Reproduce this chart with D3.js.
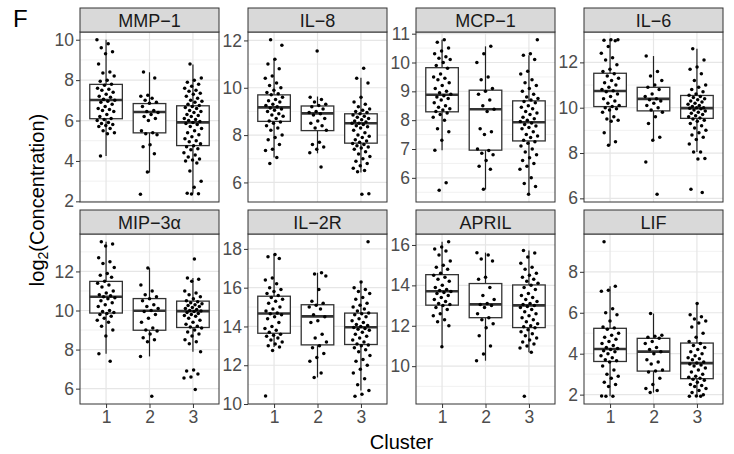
<!DOCTYPE html>
<html>
<head>
<meta charset="utf-8">
<script src="https://cdn.jsdelivr.net/npm/d3@7"></script>
<style>
  body { margin: 0; background: #fff; }
  svg { display: block; font-family: "Liberation Sans", Arial, Helvetica, sans-serif; }
</style>
</head>
<body>
<svg id="chart"></svg>
<script>
// categories
const clusters = ["1", "2", "3"];
const analytes = ["MMP−1", "IL−8", "MCP−1", "IL−6", "MIP−3α", "IL−2R", "APRIL", "LIF"];

// log2 concentrations, one list per cluster
const mmp1Values = [
  [10.0, 9.8, 9.6, 9.4, 9.3, 8.8, 8.4, 8.35, 8.2, 8.0, 7.95, 7.8, 7.75, 7.6, 7.55, 7.5, 7.4, 7.3, 7.2, 7.15, 7.05, 7.0, 6.95, 6.9, 6.8, 6.7, 6.6, 6.55, 6.5, 6.45, 6.3, 6.2, 6.1, 6.05, 6.0, 5.9, 5.85, 5.8, 5.75, 5.7, 5.6, 5.5, 5.4, 5.35, 4.25],
  [8.4, 8.1, 7.25, 7.2, 7.1, 7.0, 6.9, 6.85, 6.7, 6.5, 6.45, 6.4, 6.3, 6.2, 6.1, 6.0, 5.5, 5.4, 5.35, 5.3, 4.8, 4.7, 4.35, 3.45, 2.35],
  [8.8, 8.1, 8.0, 7.9, 7.8, 7.7, 7.6, 7.5, 7.45, 7.35, 7.3, 7.2, 7.1, 7.0, 6.95, 6.9, 6.8, 6.75, 6.7, 6.65, 6.6, 6.5, 6.45, 6.4, 6.3, 6.25, 6.2, 6.1, 6.05, 6.0, 5.95, 5.9, 5.85, 5.8, 5.7, 5.6, 5.5, 5.4, 5.3, 5.2, 5.1, 5.0, 4.95, 4.85, 4.75, 4.7, 4.6, 4.55, 4.4, 4.3, 4.2, 4.1, 4.05, 4.0, 3.9, 3.5, 3.0, 2.7, 2.4, 2.38, 2.36]
];
const il8Values = [
  [12.03, 11.8, 11.2, 11.0, 10.8, 10.5, 10.4, 10.2, 10.1, 10.0, 9.9, 9.8, 9.75, 9.7, 9.6, 9.5, 9.45, 9.4, 9.3, 9.25, 9.2, 9.15, 9.1, 9.05, 9.0, 8.9, 8.85, 8.8, 8.7, 8.6, 8.55, 8.5, 8.4, 8.3, 8.2, 8.0, 7.9, 7.8, 7.6, 7.4, 7.35, 7.05, 6.8],
  [11.55, 9.6, 9.5, 9.4, 9.3, 9.25, 9.2, 9.1, 9.0, 8.95, 8.9, 8.85, 8.7, 8.6, 8.5, 8.4, 8.3, 8.2, 7.7, 7.6, 7.5, 7.4, 7.25, 6.65],
  [10.82, 10.4, 10.2, 9.6, 9.4, 9.3, 9.2, 9.1, 9.05, 9.0, 8.95, 8.9, 8.85, 8.8, 8.75, 8.7, 8.65, 8.6, 8.55, 8.5, 8.5, 8.45, 8.4, 8.35, 8.3, 8.2, 8.1, 8.0, 7.95, 7.9, 7.8, 7.75, 7.7, 7.65, 7.6, 7.55, 7.5, 7.45, 7.4, 7.3, 7.2, 7.1, 7.0, 6.9, 6.8, 6.7, 6.6, 6.5, 6.45, 5.52, 5.5]
];
const mcp1Values = [
  [10.79, 10.7, 10.5, 10.4, 10.3, 10.2, 10.15, 10.1, 10.0, 9.9, 9.8, 9.6, 9.5, 9.45, 9.4, 9.3, 9.2, 9.1, 9.0, 8.95, 8.9, 8.85, 8.8, 8.75, 8.7, 8.6, 8.5, 8.45, 8.4, 8.35, 8.3, 8.25, 8.2, 8.1, 8.0, 7.7, 7.6, 7.3, 6.96, 5.83, 5.57],
  [10.56, 10.3, 10.0, 9.5, 9.4, 9.1, 9.0, 8.9, 8.7, 8.5, 8.38, 8.3, 7.7, 7.6, 7.5, 7.0, 6.95, 6.85, 6.8, 6.6, 6.4, 6.3, 5.6],
  [10.79, 10.3, 10.25, 10.1, 9.7, 9.6, 9.4, 9.3, 9.2, 9.1, 9.0, 8.9, 8.8, 8.75, 8.7, 8.65, 8.6, 8.5, 8.45, 8.4, 8.3, 8.25, 8.2, 8.1, 8.05, 8.0, 7.95, 7.9, 7.85, 7.8, 7.75, 7.7, 7.6, 7.5, 7.45, 7.4, 7.3, 7.25, 7.2, 7.1, 7.0, 6.9, 6.8, 6.7, 6.6, 6.5, 6.4, 6.3, 6.0, 5.8, 5.7, 5.43]
];
const il6Values = [
  [13.0, 13.0, 12.98, 12.95, 12.7, 12.4, 12.2, 12.1, 11.9, 11.7, 11.6, 11.5, 11.4, 11.3, 11.2, 11.1, 11.0, 10.9, 10.8, 10.75, 10.7, 10.6, 10.5, 10.4, 10.3, 10.2, 10.1, 10.05, 10.0, 9.95, 9.9, 9.8, 9.6, 9.5, 9.45, 9.4, 8.9, 8.5, 8.34],
  [12.28, 11.6, 11.4, 11.2, 11.0, 10.9, 10.8, 10.6, 10.5, 10.4, 10.35, 10.3, 10.2, 10.1, 10.0, 9.9, 9.8, 9.6, 9.3, 8.7, 8.56, 7.6, 6.18],
  [12.6, 12.1, 11.8, 11.7, 11.5, 11.2, 11.0, 10.9, 10.8, 10.7, 10.6, 10.55, 10.5, 10.45, 10.4, 10.35, 10.3, 10.25, 10.2, 10.15, 10.1, 10.05, 10.0, 10.0, 9.98, 9.95, 9.9, 9.85, 9.8, 9.75, 9.7, 9.65, 9.6, 9.55, 9.5, 9.45, 9.4, 9.3, 9.2, 9.1, 9.0, 8.9, 8.8, 8.7, 8.6, 8.4, 8.05, 8.04, 7.76, 7.74, 6.4, 6.26]
];
const mip3aValues = [
  [13.52, 13.4, 13.3, 12.7, 12.5, 12.4, 12.2, 11.9, 11.8, 11.7, 11.5, 11.4, 11.3, 11.2, 11.0, 10.9, 10.8, 10.75, 10.7, 10.65, 10.6, 10.5, 10.4, 10.3, 10.2, 10.0, 9.95, 9.9, 9.85, 9.8, 9.7, 9.6, 9.5, 9.4, 9.2, 9.0, 8.7, 7.79, 7.4],
  [12.17, 11.3, 11.0, 10.8, 10.7, 10.6, 10.5, 10.3, 10.2, 10.1, 10.0, 9.95, 9.8, 9.6, 9.4, 9.1, 9.0, 8.95, 8.8, 8.6, 8.5, 8.4, 7.65, 5.61],
  [12.63, 11.66, 11.6, 11.5, 11.0, 10.9, 10.8, 10.7, 10.6, 10.5, 10.45, 10.4, 10.35, 10.3, 10.25, 10.2, 10.15, 10.1, 10.05, 10.0, 9.98, 9.95, 9.9, 9.85, 9.8, 9.75, 9.7, 9.6, 9.5, 9.4, 9.3, 9.2, 9.15, 9.1, 9.0, 8.9, 8.8, 8.7, 8.5, 8.4, 8.3, 7.89, 6.95, 6.9, 6.75, 6.6, 6.55, 5.96]
];
const il2rValues = [
  [17.71, 17.6, 17.5, 16.5, 16.4, 16.2, 16.0, 15.9, 15.8, 15.7, 15.6, 15.5, 15.4, 15.3, 15.2, 15.0, 14.9, 14.8, 14.7, 14.65, 14.6, 14.5, 14.4, 14.2, 14.0, 13.9, 13.8, 13.7, 13.6, 13.55, 13.5, 13.4, 13.3, 13.2, 13.1, 13.0, 12.94, 12.76, 10.41],
  [16.77, 16.7, 16.6, 15.9, 15.3, 15.2, 15.1, 15.0, 14.9, 14.6, 14.5, 14.3, 14.2, 13.6, 13.4, 13.2, 13.0, 12.9, 12.6, 12.4, 12.2, 11.6, 11.37],
  [18.37, 16.29, 16.0, 15.9, 15.8, 15.7, 15.5, 15.4, 15.2, 15.1, 15.0, 14.9, 14.8, 14.7, 14.65, 14.6, 14.5, 14.4, 14.3, 14.2, 14.1, 14.05, 14.0, 13.95, 13.9, 13.85, 13.8, 13.7, 13.6, 13.5, 13.4, 13.3, 13.2, 13.1, 13.05, 13.0, 12.9, 12.8, 12.7, 12.5, 12.3, 12.2, 12.0, 11.8, 11.6, 11.3, 11.0, 10.7, 10.5, 10.4]
];
const aprilValues = [
  [16.16, 15.9, 15.8, 15.7, 15.5, 15.2, 15.0, 14.9, 14.8, 14.6, 14.5, 14.4, 14.3, 14.2, 14.0, 13.9, 13.8, 13.75, 13.7, 13.65, 13.6, 13.5, 13.4, 13.3, 13.2, 13.1, 13.05, 13.0, 12.9, 12.8, 12.6, 12.5, 12.3, 12.2, 12.0, 10.96],
  [15.62, 15.5, 15.3, 15.2, 14.4, 14.3, 13.9, 13.5, 13.3, 13.1, 13.05, 13.0, 12.9, 12.6, 12.4, 12.3, 12.1, 11.9, 11.5, 11.0, 10.6, 10.27],
  [15.72, 15.6, 15.4, 15.1, 14.9, 14.8, 14.6, 14.5, 14.4, 14.3, 14.2, 14.1, 14.0, 13.9, 13.8, 13.6, 13.5, 13.4, 13.3, 13.2, 13.1, 13.05, 13.0, 12.95, 12.9, 12.8, 12.7, 12.6, 12.5, 12.4, 12.3, 12.2, 12.1, 12.0, 11.95, 11.9, 11.8, 11.7, 11.6, 11.5, 11.4, 11.3, 11.2, 11.1, 11.0, 10.9, 10.69, 8.51]
];
const lifValues = [
  [9.47, 7.3, 7.1, 7.05, 6.2, 6.0, 5.9, 5.6, 5.3, 5.25, 5.2, 5.0, 4.9, 4.8, 4.7, 4.6, 4.5, 4.4, 4.3, 4.25, 4.2, 4.15, 4.1, 4.0, 3.9, 3.8, 3.7, 3.65, 3.6, 3.4, 3.2, 3.0, 2.9, 2.8, 2.6, 2.5, 2.4, 1.93, 1.92, 1.92],
  [5.96, 4.9, 4.85, 4.8, 4.75, 4.6, 4.5, 4.3, 4.2, 4.1, 4.0, 3.7, 3.6, 3.5, 3.2, 3.15, 3.1, 2.8, 2.5, 2.3, 2.2, 2.1],
  [6.45, 5.9, 5.8, 5.7, 5.6, 5.5, 5.3, 5.0, 4.8, 4.6, 4.5, 4.4, 4.3, 4.2, 4.1, 4.0, 3.9, 3.8, 3.75, 3.7, 3.6, 3.55, 3.5, 3.45, 3.4, 3.3, 3.2, 3.1, 3.0, 2.9, 2.85, 2.8, 2.75, 2.7, 2.6, 2.5, 2.45, 2.4, 2.3, 2.2, 2.1, 2.0, 1.93, 1.92, 1.92]
];

// box stats per cluster: [lower whisker, q1, median, q3, upper whisker]
const mmp1Boxes = [[4.24, 6.09, 7.02, 7.79, 10.0], [3.42, 5.39, 6.42, 6.84, 8.39], [2.39, 4.76, 5.91, 6.73, 8.77]];
const il8Boxes = [[7.05, 8.58, 9.17, 9.70, 11.23], [7.23, 8.19, 8.92, 9.23, 9.63], [6.42, 7.66, 8.50, 8.90, 10.42]];
const mcp1Boxes = [[6.96, 8.29, 8.88, 9.82, 10.79], [5.60, 6.96, 8.38, 9.04, 10.56], [5.43, 7.28, 7.93, 8.67, 10.25]];
const il6Boxes = [[8.34, 10.05, 10.74, 11.52, 13.0], [8.56, 9.86, 10.39, 10.90, 12.28], [8.04, 9.53, 9.98, 10.54, 12.6]];
const mip3aBoxes = [[7.79, 9.87, 10.70, 11.49, 13.52], [7.65, 8.99, 9.99, 10.61, 12.17], [7.89, 9.13, 9.97, 10.48, 11.66]];
const il2rBoxes = [[12.94, 13.65, 14.67, 15.56, 17.71], [11.37, 13.05, 14.52, 15.12, 16.77], [10.7, 13.07, 13.96, 14.69, 16.29]];
const aprilBoxes = [[10.96, 13.02, 13.71, 14.53, 16.16], [10.27, 12.40, 13.06, 14.09, 15.62], [10.69, 11.91, 13.01, 14.02, 15.72]];
const lifBoxes = [[1.92, 3.62, 4.23, 5.24, 7.30], [2.10, 3.15, 4.10, 4.75, 5.96], [1.92, 2.78, 3.54, 4.52, 6.45]];

// y tick labels per panel
const mmp1Ticks = [2, 4, 6, 8, 10];
const il8Ticks = [6, 8, 10, 12];
const mcp1Ticks = [6, 7, 8, 9, 10, 11];
const il6Ticks = [6, 8, 10, 12];
const mip3aTicks = [6, 8, 10, 12];
const il2rTicks = [10, 12, 14, 16, 18];
const aprilTicks = [10, 12, 14, 16];
const lifTicks = [2, 4, 6, 8];

const panels = [
  { name: analytes[0], values: mmp1Values, boxes: mmp1Boxes, ticks: mmp1Ticks },
  { name: analytes[1], values: il8Values, boxes: il8Boxes, ticks: il8Ticks },
  { name: analytes[2], values: mcp1Values, boxes: mcp1Boxes, ticks: mcp1Ticks },
  { name: analytes[3], values: il6Values, boxes: il6Boxes, ticks: il6Ticks },
  { name: analytes[4], values: mip3aValues, boxes: mip3aBoxes, ticks: mip3aTicks },
  { name: analytes[5], values: il2rValues, boxes: il2rBoxes, ticks: il2rTicks },
  { name: analytes[6], values: aprilValues, boxes: aprilBoxes, ticks: aprilTicks },
  { name: analytes[7], values: lifValues, boxes: lifBoxes, ticks: lifTicks }
];

const width = 734;
const height = 454;
const left = 80;
const colStep = 168;
const pw = 139;
const ph = 170;
const stripH = 24;
const rowTops = [32, 234];
const font = "Liberation Sans, Arial, sans-serif";

const svg = d3.select("#chart").attr("width", width).attr("height", height);

svg.append("rect").attr("width", width).attr("height", height).attr("fill", "#fff");

panels.forEach((p, k) => {
  const col = k % 4;
  const row = Math.floor(k / 4);
  const x0 = left + col * colStep;
  const y0 = rowTops[row];

  const g = svg.append("g").attr("transform", `translate(${x0},${y0})`);

  const x = d3.scalePoint().domain(clusters).range([0, pw]).padding(0.6);
  const step = x.step();

  // free y scale, 5% expansion like ggplot
  const ext = d3.extent(p.values.flat());
  const pad = (ext[1] - ext[0]) * 0.05;
  const y = d3.scaleLinear().domain([ext[0] - pad, ext[1] + pad]).range([ph, 0]);

  // grid
  const tStep = p.ticks[1] - p.ticks[0];
  const minor = d3.range(p.ticks[0] - tStep / 2, p.ticks[p.ticks.length - 1] + tStep, tStep)
    .filter((v) => v > y.domain()[0] && v < y.domain()[1]);

  g.selectAll(".minor").data(minor).enter().append("line")
    .attr("x1", 0).attr("x2", pw)
    .attr("y1", (d) => y(d)).attr("y2", (d) => y(d))
    .attr("stroke", "#ebebeb").attr("stroke-width", 0.7);

  g.selectAll(".major").data(p.ticks).enter().append("line")
    .attr("x1", 0).attr("x2", pw)
    .attr("y1", (d) => y(d)).attr("y2", (d) => y(d))
    .attr("stroke", "#e6e6e6").attr("stroke-width", 1.2);

  g.selectAll(".vgrid").data(clusters).enter().append("line")
    .attr("x1", (d) => x(d)).attr("x2", (d) => x(d))
    .attr("y1", 0).attr("y2", ph)
    .attr("stroke", "#e6e6e6").attr("stroke-width", 1.2);

  // boxplots
  const bw = step * 0.75;
  const box = g.selectAll(".box").data(p.boxes).enter().append("g")
    .attr("transform", (d, i) => `translate(${x(clusters[i])},0)`);

  box.append("line")
    .attr("x1", 0).attr("x2", 0)
    .attr("y1", (d) => y(d[4])).attr("y2", (d) => y(d[3]))
    .attr("stroke", "#222").attr("stroke-width", 1.2);
  box.append("line")
    .attr("x1", 0).attr("x2", 0)
    .attr("y1", (d) => y(d[1])).attr("y2", (d) => y(d[0]))
    .attr("stroke", "#222").attr("stroke-width", 1.2);
  box.append("rect")
    .attr("x", -bw / 2).attr("width", bw)
    .attr("y", (d) => y(d[3])).attr("height", (d) => y(d[1]) - y(d[3]))
    .attr("fill", "#fff").attr("stroke", "#333").attr("stroke-width", 1.3);
  box.append("line")
    .attr("x1", -bw / 2).attr("x2", bw / 2)
    .attr("y1", (d) => y(d[2])).attr("y2", (d) => y(d[2]))
    .attr("stroke", "#333").attr("stroke-width", 2.6);

  // jittered points
  p.values.forEach((vals, ci) => {
    const cx = x(clusters[ci]);
    g.append("g").selectAll("circle").data(vals).enter().append("circle")
      .attr("cx", (d, i) => cx + (((i * 0.6180339 + k * 0.31 + ci * 0.17) % 1) - 0.5) * 0.42 * step)
      .attr("cy", (d) => y(d))
      .attr("r", 1.75)
      .attr("fill", "#000");
  });

  // border
  g.append("rect").attr("width", pw).attr("height", ph)
    .attr("fill", "none").attr("stroke", "#333").attr("stroke-width", 1);

  // strip
  g.append("rect").attr("y", -stripH).attr("width", pw).attr("height", stripH)
    .attr("fill", "#d9d9d9").attr("stroke", "#333").attr("stroke-width", 1);
  g.append("text").attr("x", pw / 2).attr("y", -stripH / 2 + 6.5)
    .attr("text-anchor", "middle").attr("font-size", 18).attr("fill", "#1a1a1a")
    .text(p.name);

  // y axis
  const ya = g.append("g").call(d3.axisLeft(y).tickValues(p.ticks)
    .tickFormat(d3.format("d")).tickSize(4).tickPadding(2));
  ya.select(".domain").remove();
  ya.selectAll(".tick line").attr("stroke", "#333");
  ya.selectAll(".tick text").attr("fill", "#4d4d4d").attr("font-size", 17.5)
    .attr("font-family", font);

  // x axis on bottom row
  if (row === 1) {
    const xa = g.append("g").attr("transform", `translate(0,${ph})`)
      .call(d3.axisBottom(x).tickSize(4).tickPadding(3));
    xa.select(".domain").remove();
    xa.selectAll(".tick line").attr("stroke", "#333");
    xa.selectAll(".tick text").attr("fill", "#4d4d4d").attr("font-size", 17.5)
      .attr("font-family", font);
  }
});

// titles
svg.append("text").attr("x", 13).attr("y", 27).attr("font-size", 24).attr("fill", "#000").text("F");

svg.append("text").attr("x", (left + left + 3 * colStep + pw) / 2).attr("y", 449)
  .attr("text-anchor", "middle").attr("font-size", 20).attr("fill", "#000").text("Cluster");

const yt = svg.append("text").attr("transform", "translate(44,200) rotate(-90)")
  .attr("text-anchor", "middle").attr("font-size", 20).attr("fill", "#000");
yt.append("tspan").text("log");
yt.append("tspan").attr("font-size", 14).attr("dy", 4).text("2");
yt.append("tspan").attr("dy", -4).text("(Concentration)");
</script>
</body>
</html>
